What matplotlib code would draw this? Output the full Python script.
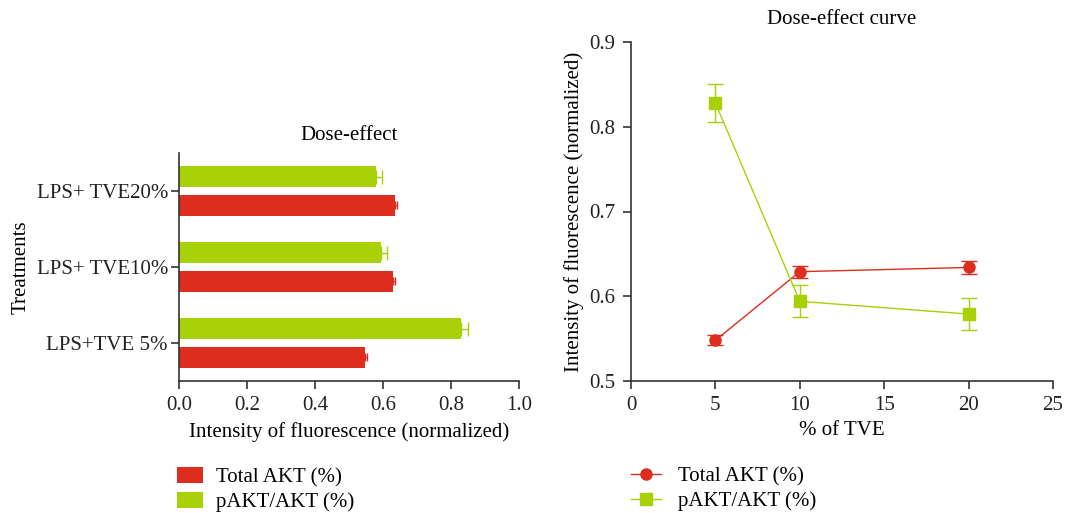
import matplotlib
matplotlib.use("Agg")
import matplotlib.pyplot as plt
import numpy as np
from matplotlib.lines import Line2D

# ---- data ----
treatments = ["LPS+TVE 5%", "LPS+ TVE10%", "LPS+ TVE20%"]
tve_pct = [5, 10, 20]
total_akt = [0.548, 0.629, 0.634]
total_akt_err = [0.006, 0.007, 0.008]
pakt_akt = [0.828, 0.594, 0.579]
pakt_akt_err = [0.022, 0.019, 0.019]
series_labels = ["Total AKT (%)", "pAKT/AKT (%)"]

RED = "#DC2D1E"
GREEN = "#A8D108"
SPINE = "#333333"
FS = 15

plt.rcParams['font.family'] = ['Liberation Serif', 'DejaVu Serif']
plt.rcParams['font.size'] = FS

W, H = 1067, 513
fig = plt.figure(figsize=(W / 100, H / 100), dpi=100)

def frac(l, t, r, b):
    return [l / W, 1 - b / H, (r - l) / W, (b - t) / H]

def style(ax):
    for s in ["top", "right"]:
        ax.spines[s].set_visible(False)
    for s in ["left", "bottom"]:
        ax.spines[s].set_color(SPINE)
        ax.spines[s].set_linewidth(1.2)
    ax.tick_params(direction="out", length=6, width=1.2, color=SPINE,
                   labelsize=FS, labelcolor="#222222", pad=5)

# ---- left: horizontal bars ----
ax1 = fig.add_axes(frac(179, 153, 519, 381))
style(ax1)
ax1.tick_params(axis="y", pad=2)
y = np.arange(len(treatments))
h = 0.265
off = 0.19
b1 = ax1.barh(y - off, total_akt, height=h, color=RED,
              xerr=[np.zeros(3), total_akt_err], ecolor=RED, capsize=3,
              error_kw=dict(elinewidth=1.0, capthick=1.0), label=series_labels[0])
b2 = ax1.barh(y + off, pakt_akt, height=h, color=GREEN,
              xerr=[np.zeros(3), pakt_akt_err], ecolor=GREEN, capsize=5,
              error_kw=dict(elinewidth=1.0, capthick=1.0), label=series_labels[1])
ax1.set_ylim(-0.5, 2.5)
ax1.set_xlim(0, 1.0)
ax1.set_yticks(y)
ax1.set_yticklabels(treatments)
ax1.set_xticks(np.arange(0, 1.01, 0.2))
ax1.set_xticklabels([f"{v:.1f}" for v in np.arange(0, 1.01, 0.2)])
ax1.set_xlabel("Intensity of fluorescence (normalized)", fontsize=FS, labelpad=5)
ax1.set_ylabel("Treatments", fontsize=FS, labelpad=4)
ax1.set_title("Dose-effect", fontsize=FS, pad=9)

fig.legend(handles=[b1, b2], labels=series_labels, loc="upper left",
           bbox_to_anchor=(177 / W, 1 - 467 / H), frameon=False, borderpad=0,
           borderaxespad=0, handlelength=1.25, handleheight=0.8,
           handletextpad=0.62, labelspacing=0.22, fontsize=FS)

# ---- right: dose-effect curve ----
ax2 = fig.add_axes(frac(631, 42, 1053, 381))
style(ax2)
ax2.errorbar(tve_pct, total_akt, yerr=total_akt_err, color=RED, marker="o",
             markersize=8, linewidth=1.0, capsize=6, capthick=1.0,
             elinewidth=1.0, label=series_labels[0])
ax2.errorbar(tve_pct, pakt_akt, yerr=pakt_akt_err, color=GREEN, marker="s",
             markersize=9, linewidth=1.0, capsize=6, capthick=1.0,
             elinewidth=1.0, label=series_labels[1])
ax2.set_xlim(0, 25)
ax2.set_ylim(0.5, 0.9)
ax2.set_xticks([0, 5, 10, 15, 20, 25])
ax2.set_yticks([0.5, 0.6, 0.7, 0.8, 0.9])
ax2.set_yticklabels(["0.5", "0.6", "0.7", "0.8", "0.9"])
ax2.set_xlabel("% of TVE", fontsize=FS, labelpad=4)
ax2.set_ylabel("Intensity of fluorescence (normalized)", fontsize=FS, labelpad=4)
ax2.set_title("Dose-effect curve", fontsize=FS, pad=13)

h1 = Line2D([], [], color=RED, marker="o", markersize=8, linewidth=1.0)
h2 = Line2D([], [], color=GREEN, marker="s", markersize=8, linewidth=1.0)
fig.legend(handles=[h1, h2], labels=series_labels, loc="upper left",
           bbox_to_anchor=(631 / W, 1 - 467 / H), frameon=False, borderpad=0,
           borderaxespad=0, handlelength=1.45, handletextpad=0.8,
           labelspacing=0.22, fontsize=FS)

fig.savefig("out.png", dpi=100)
